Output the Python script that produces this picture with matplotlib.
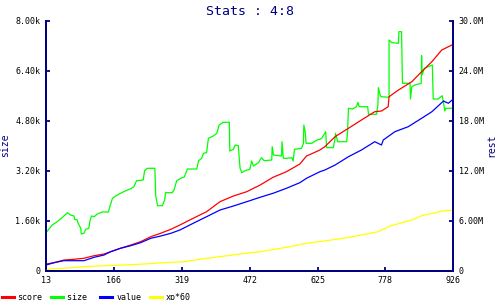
import matplotlib
matplotlib.use("Agg")
import matplotlib.pyplot as plt
from matplotlib.ticker import FuncFormatter

plt.rcParams['font.family'] = ['DejaVu Sans Mono']

NAVY = "#000080"

# size (left axis)
size_x = [13, 27, 38, 50, 61, 68, 76, 77, 83, 85, 91, 92, 98, 102, 109, 112, 115, 121, 128, 139,
          153, 156, 162, 169, 180, 192, 203, 210, 216, 231, 234, 240, 257, 259, 263, 274, 279, 281,
          296, 300, 306, 315, 323, 330, 351, 355, 362, 366, 373, 377, 388, 396, 401, 410, 424, 425,
          433, 437, 444, 446, 448, 452, 459, 470, 474, 478, 489, 496, 502, 519, 520, 523, 541, 542,
          545, 553, 564, 567, 570, 586, 590, 591, 594, 596, 609, 620, 627, 631, 640, 642, 657, 661,
          662, 667, 687, 689, 691, 700, 709, 712, 715, 734, 736, 754, 757, 758, 762, 764, 782, 782,
          788, 803, 804, 810, 812, 829, 830, 833, 840, 854, 855, 856, 861, 879, 881, 892, 901, 904,
          907, 909, 926]
size_y = [1216, 1462, 1568, 1709, 1856, 1782, 1750, 1645, 1622, 1517, 1357, 1174, 1197, 1325, 1357,
          1622, 1750, 1728, 1814, 1878, 1878, 2048, 2317, 2390, 2477, 2560, 2624, 2688, 2880, 2902,
          3200, 3277, 3277, 2390, 2080, 2080, 2262, 2496, 2496, 2582, 2880, 2957, 2998, 3254, 3254,
          3520, 3597, 3757, 3776, 4237, 4310, 4397, 4662, 4749, 4749, 3830, 3885, 4022, 4000, 3648,
          3277, 3136, 3200, 3245, 3510, 3350, 3456, 3616, 3520, 3542, 3968, 3702, 3670, 4128, 3597,
          3597, 3616, 3510, 3885, 3917, 4077, 4662, 4448, 4077, 4077, 4182, 4205, 4237, 4448, 3936,
          3936, 4237, 4397, 4128, 4128, 4448, 5197, 5174, 5248, 5389, 5248, 5248, 5005, 5005, 5302,
          5856, 5622, 5568, 5549, 7382, 7296, 7277, 7648, 7648, 5997, 5997, 5494, 5888, 5942, 5997,
          6880, 6262, 6477, 6582, 5494, 5494, 5600, 5389, 5110, 5197, 5197]

# score (right axis, millions)
score_x = [13, 31, 53, 76, 98, 121, 143, 158, 180, 203, 225, 248, 270, 293, 313, 343, 373, 403,
           433, 463, 493, 522, 552, 582, 597, 627, 638, 661, 691, 720, 750, 765, 780, 782, 803,
           833, 855, 878, 900, 926]
score_y = [0.80, 0.96, 1.28, 1.37, 1.49, 1.80, 2.00, 2.28, 2.69, 3.08, 3.48, 4.08, 4.49, 4.97,
           5.48, 6.29, 7.08, 8.28, 8.96, 9.48, 10.28, 11.21, 11.88, 12.80, 13.76, 14.48, 14.88,
           16.08, 17.09, 18.08, 19.08, 19.16, 19.68, 20.88, 21.68, 22.68, 23.88, 25.08, 26.48, 27.17]

# value (right axis, millions)
value_x = [13, 31, 53, 98, 121, 143, 158, 180, 203, 225, 248, 270, 293, 313, 343, 373, 403, 433,
           463, 493, 522, 552, 582, 597, 627, 638, 661, 691, 720, 750, 765, 769, 795, 825, 855,
           878, 904, 915, 926]
value_y = [0.68, 0.96, 1.20, 1.20, 1.61, 1.88, 2.28, 2.69, 3.00, 3.36, 3.89, 4.16, 4.49, 4.88,
           5.69, 6.48, 7.28, 7.76, 8.28, 8.81, 9.29, 9.89, 10.56, 11.09, 11.88, 12.08, 12.68,
           13.68, 14.48, 15.48, 15.08, 15.68, 16.68, 17.28, 18.29, 19.08, 20.36, 20.09, 20.60]

# xp*60 (right axis, millions)
xp_x = [13, 53, 98, 143, 188, 233, 278, 322, 358, 403, 448, 493, 515, 560, 597, 642, 694, 758,
        784, 833, 855, 881, 904, 926]
xp_y = [0.17, 0.29, 0.48, 0.60, 0.68, 0.80, 0.96, 1.08, 1.37, 1.68, 2.00, 2.28, 2.48, 2.88,
        3.29, 3.60, 4.01, 4.68, 5.36, 6.08, 6.60, 6.89, 7.20, 7.25]

xtick_labels = ["13", "166", "319", "472", "625", "778", "926"]
left_ticks = [0, 1600, 3200, 4800, 6400, 8000]
right_ticks = [0, 6, 12, 18, 24, 30]

fig = plt.figure(figsize=(5, 3), dpi=100)
ax = fig.add_axes([0.092, 0.0977, 0.8146, 0.8333])
ax2 = ax.twinx()

h_size, = ax.plot(size_x, size_y, color="#00ff00", lw=0.9)
l1, = ax2.plot(score_x, [v * 1e6 for v in score_y], color="red", lw=0.9)
l3, = ax2.plot(value_x, [v * 1e6 for v in value_y], color="#0000ff", lw=0.9)
l4, = ax2.plot(xp_x, [v * 1e6 for v in xp_y], color="#ffff00", lw=0.9)

ax.set_xlim(13, 926)
ax.set_ylim(0, 8000)
ax2.set_ylim(0, 30e6)

nx = len(xtick_labels)
ax.set_xticks([13 + i * (926 - 13) / (nx - 1) for i in range(nx)])
ax.set_xticklabels(xtick_labels)
ax.set_yticks(left_ticks)
ax.yaxis.set_major_formatter(FuncFormatter(lambda v, p: "0" if v == 0 else "%.2fk" % (v / 1000)))
ax2.set_yticks([v * 1e6 for v in right_ticks])


def mfmt(v, p):
    if v == 0:
        return "0"
    m = v / 1e6
    return "%.2fM" % m if m < 10 else "%.1fM" % m


ax2.yaxis.set_major_formatter(FuncFormatter(mfmt))

for a in (ax, ax2):
    a.spines["top"].set_visible(False)
    for s in ("left", "right", "bottom"):
        a.spines[s].set_color(NAVY)
        a.spines[s].set_linewidth(1.3)
    a.tick_params(direction="in", length=3, width=1.3, color=NAVY, labelsize=6, pad=4,
                  labelcolor="black")

ax.set_ylabel("size", color=NAVY, fontsize=7, labelpad=4)
ax2.set_ylabel("rest", color=NAVY, fontsize=7, labelpad=2)
ax.set_title("Stats : 4:8", color=NAVY, fontsize=9.5, pad=4)

# monospace labels padded to equal width so columns are evenly spaced
fig.legend([l1, h_size, l3, l4], ["score", "size ", "value", "xp*60"],
           loc="lower left", bbox_to_anchor=(-0.012, -0.03), ncol=4, frameon=False,
           fontsize=6, handlelength=1.45, handletextpad=0.48, columnspacing=1.0)
for line in fig.legends[0].get_lines():
    line.set_linewidth(2.2)

fig.savefig("out.png", dpi=100)
